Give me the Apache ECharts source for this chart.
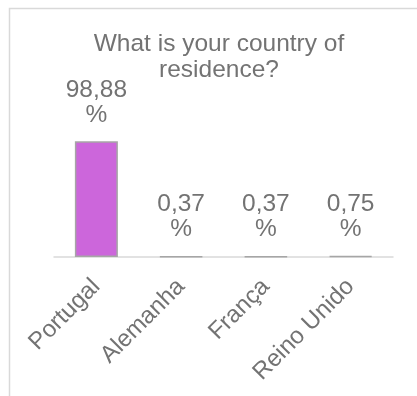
<!DOCTYPE html>
<html>
<head>
<meta charset="utf-8">
<style>
  html, body { margin: 0; padding: 0; background: #ffffff; }
  #chart { width: 417px; height: 396px; }
</style>
<script src="https://cdn.jsdelivr.net/npm/echarts@6/dist/echarts.min.js"></script>
</head>
<body>
<div id="chart"></div>
<script>
// Share of respondents by country of residence (%)
const countries = ['Portugal', 'Alemanha', 'França', 'Reino Unido'];
const shares = [98.88, 0.37, 0.37, 0.75];
const valueRange = [0, 100];

const textGray = '#737373';
const fontFamily = '"Liberation Sans", Arial, sans-serif';

const chart = echarts.init(document.getElementById('chart'), null, { renderer: 'canvas' });

chart.setOption({
  animation: false,
  backgroundColor: '#ffffff',
  title: {
    text: 'What is your country of\nresidence?',
    left: 214,
    top: 26,
    textAlign: 'center',
    textStyle: {
      color: textGray,
      fontFamily: fontFamily,
      fontWeight: 'normal',
      fontSize: 24.5,
      lineHeight: 26
    }
  },
  graphic: [{
    type: 'rect',
    silent: true,
    shape: { x: 9.5, y: 8.5, width: 600, height: 600 },
    style: { fill: 'none', stroke: '#d9d9d9', lineWidth: 1.5 }
  }],
  grid: { left: 54, right: 24, top: 140, bottom: 139 },
  xAxis: {
    type: 'category',
    data: countries,
    axisLine: { show: true, lineStyle: { color: '#d9d9d9', width: 1.5 } },
    axisTick: { show: false },
    axisLabel: {
      rotate: 45,
      margin: 26,
      color: textGray,
      fontFamily: fontFamily,
      fontSize: 24,
      interval: 0
    }
  },
  yAxis: {
    type: 'value',
    min: valueRange[0],
    max: valueRange[1],
    show: false
  },
  series: [{
    type: 'bar',
    data: shares,
    barWidth: 43,
    itemStyle: {
      color: '#cc66db',
      borderColor: '#a6a6a6',
      borderWidth: 1.5
    },
    label: {
      show: true,
      position: 'top',
      distance: 14,
      color: textGray,
      fontFamily: fontFamily,
      fontSize: 24.5,
      lineHeight: 25,
      formatter: p => String(p.value).replace('.', ',') + '\n%'
    }
  }]
});
</script>
</body>
</html>
